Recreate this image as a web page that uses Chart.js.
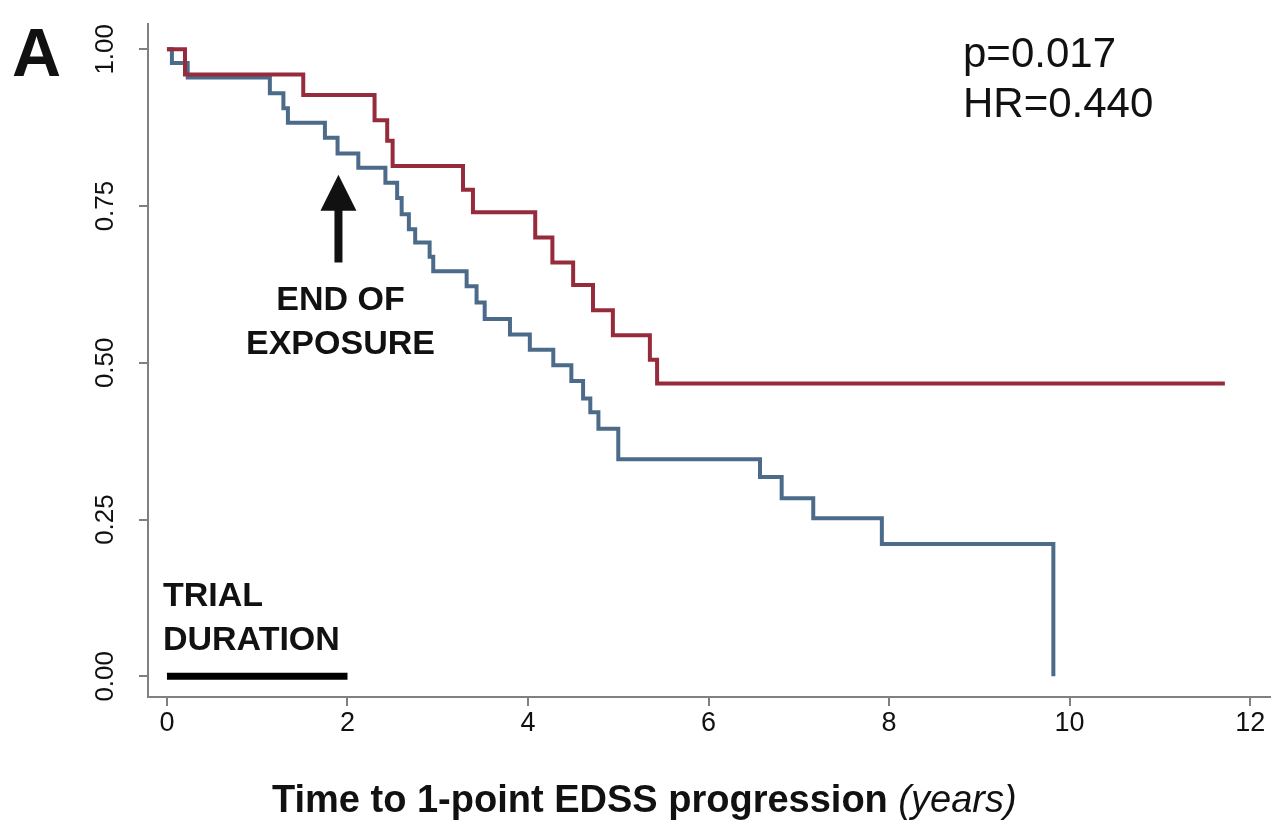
<!DOCTYPE html>
<html>
<head>
<meta charset="utf-8">
<script src="https://cdn.jsdelivr.net/npm/chart.js@4"></script>
<style>
  html, body { margin: 0; padding: 0; background: #fff; }
</style>
</head>
<body>
<canvas id="km" width="1284" height="829"></canvas>
<script>
// ------- Data -------------------------------------------------------------

const FONT = '"Liberation Sans", Arial, Helvetica, sans-serif';

const xTicks = [0, 2, 4, 6, 8, 10, 12];
const yTicks = [0, 0.25, 0.5, 0.75, 1];

// red arm (Kaplan-Meier steps: time of event, survival after it)
const redTimes = [0, 0.20, 1.51, 2.30, 2.44, 2.50, 3.28, 3.39, 4.08, 4.27, 4.50, 4.72, 4.94, 5.35, 5.43, 11.72];
const redSurv  = [1, 0.960, 0.927, 0.887, 0.854, 0.814, 0.776, 0.740, 0.700, 0.660, 0.624, 0.584, 0.544, 0.505, 0.467, 0.467];

// blue arm
const blueTimes = [0, 0.055, 0.23, 1.14, 1.29, 1.34, 1.75, 1.89, 2.12, 2.42, 2.55, 2.60, 2.68, 2.75, 2.91, 2.95,
                   3.32, 3.43, 3.52, 3.80, 4.02, 4.28, 4.48, 4.61, 4.69, 4.78, 5.00, 6.57, 6.81, 7.16, 7.92, 9.82];
const blueSurv  = [1, 0.978, 0.955, 0.930, 0.906, 0.883, 0.859, 0.834, 0.811, 0.787, 0.763, 0.737, 0.713, 0.692, 0.669, 0.646,
                   0.622, 0.596, 0.570, 0.545, 0.521, 0.496, 0.471, 0.443, 0.421, 0.395, 0.346, 0.318, 0.284, 0.252, 0.211, 0];

const trialSpan   = [0, 2];      // years
const exposureEnd = 1.9;         // arrow position (years)
const arrowFrom   = 0.66;        // arrow tail / tip (survival units)
const arrowTo     = 0.80;
const statLines   = ['p=0.017', 'HR=0.440'];
const xTitleBold  = 'Time to 1-point EDSS progression ';
const xTitleItal  = '(years)';

// ---------------------------------------------------------------------------

const toPoints = (ts, ss) => ts.map((t, i) => ({ x: t, y: ss[i] }));

const annotate = {
  id: 'annotate',
  afterDraw (chart) {
    const { ctx, scales: { x, y } } = chart;
    ctx.save();
    ctx.fillStyle = '#111';
    ctx.textBaseline = 'alphabetic';

    // panel letter
    ctx.font = `bold 68px ${FONT}`;
    ctx.textAlign = 'left';
    ctx.fillText('A', 12, 76);

    // p / HR
    ctx.font = `42px ${FONT}`;
    ctx.fillText(statLines[0], 963, 67);
    ctx.fillText(statLines[1], 963, 117);

    // arrow for end of exposure
    const ax = x.getPixelForValue(exposureEnd);
    const tipY = y.getPixelForValue(arrowTo);
    const tailY = y.getPixelForValue(arrowFrom);
    ctx.beginPath();
    ctx.moveTo(ax, tipY);
    ctx.lineTo(ax + 18, tipY + 36);
    ctx.lineTo(ax - 18, tipY + 36);
    ctx.closePath();
    ctx.fill();
    ctx.fillRect(ax - 4, tipY + 34, 8, tailY - tipY - 34);

    ctx.font = `bold 34px ${FONT}`;
    ctx.textAlign = 'center';
    ctx.fillText('END OF', ax + 2, 310);
    ctx.fillText('EXPOSURE', ax + 2, 354);

    // trial duration label
    ctx.textAlign = 'left';
    const tx = x.getPixelForValue(trialSpan[0]) - 4;
    ctx.fillText('TRIAL', tx, 606);
    ctx.fillText('DURATION', tx, 650);

    // x axis title, bold + italic part
    ctx.font = `bold 38px ${FONT}`;
    const w1 = ctx.measureText(xTitleBold).width;
    const sx = 272;
    ctx.fillText(xTitleBold, sx, 812);
    ctx.font = `italic 38px ${FONT}`;
    ctx.fillText(xTitleItal, sx + w1, 812);
    ctx.restore();
  }
};

new Chart(document.getElementById('km'), {
  type: 'line',
  data: {
    datasets: [
      {
        label: 'red',
        data: toPoints(redTimes, redSurv),
        borderColor: '#962b3b',
        borderWidth: 4,
        pointRadius: 0,
        stepped: true,
        order: 1
      },
      {
        label: 'blue',
        data: toPoints(blueTimes, blueSurv),
        borderColor: '#4c6b8a',
        borderWidth: 4,
        pointRadius: 0,
        stepped: true,
        order: 2
      },
      {
        label: 'trial',
        data: trialSpan.map(t => ({ x: t, y: 0 })),
        borderColor: '#000',
        borderWidth: 7,
        borderCapStyle: 'butt',
        pointRadius: 0,
        order: 0
      }
    ]
  },
  options: {
    responsive: false,
    animation: false,
    devicePixelRatio: 1,
    layout: { padding: { top: 20, right: 14, left: 0, bottom: 0 } },
    plugins: { legend: { display: false }, tooltip: { enabled: false } },
    scales: {
      x: {
        type: 'linear',
        min: -0.21,
        max: 12.22,
        afterFit (s) { s.height = 132; },
        afterBuildTicks (s) { s.ticks = xTicks.map(v => ({ value: v })); },
        border: { display: true, color: '#808080', width: 2 },
        grid: { drawOnChartArea: false, drawTicks: true, tickLength: 9, color: '#808080', lineWidth: 2 },
        ticks: { color: '#111', font: { family: FONT, size: 27 }, padding: 1, maxRotation: 0 }
      },
      y: {
        type: 'linear',
        min: -0.033,
        max: 1.041,
        afterFit (s) { s.width = 148; },
        afterBuildTicks (s) { s.ticks = yTicks.map(v => ({ value: v })); },
        border: { display: true, color: '#808080', width: 2 },
        grid: { drawOnChartArea: false, drawTicks: true, tickLength: 9, color: '#808080', lineWidth: 2 },
        ticks: {
          color: '#111',
          font: { family: FONT, size: 26 },
          minRotation: 90,
          maxRotation: 90,
          crossAlign: 'center',
          padding: 8,
          callback: v => v.toFixed(2)
        }
      }
    }
  },
  plugins: [annotate]
});
</script>
</body>
</html>
